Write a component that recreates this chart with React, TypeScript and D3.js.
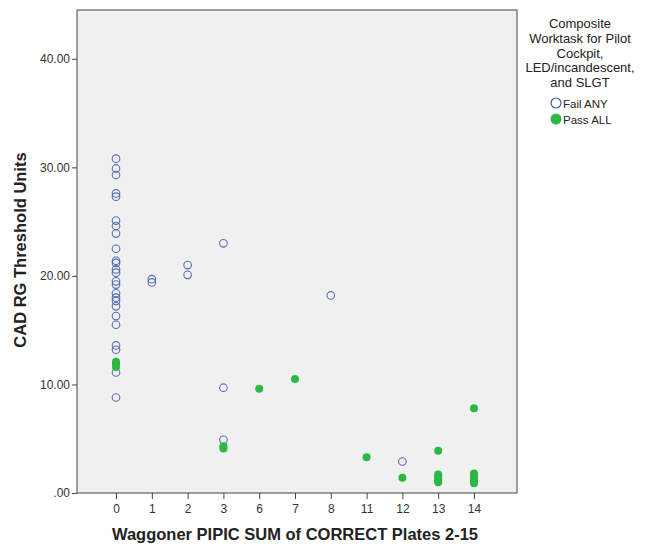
import React, { useEffect, useRef } from "react";
import * as d3 from "d3";

// x categories (PIPIC sum of correct plates) that appear in the data
const categories = ["0", "1", "2", "3", "6", "7", "8", "11", "12", "13", "14"];
const yTicks = [0, 10, 20, 30, 40];

// Fail ANY (open blue circles)
const failX = [
  "0", "0", "0", "0", "0", "0", "0", "0", "0", "0", "0", "0", "0", "0", "0", "0", "0", "0",
  "0", "0", "0", "0", "0", "0", "0", "1", "1", "2", "2", "3", "3", "3", "8", "12",
];
const failY = [
  30.8, 29.9, 29.3, 27.6, 27.3, 25.1, 24.6, 23.9, 22.5, 21.4, 21.2, 20.6, 20.3, 19.5, 19.2,
  18.4, 18.0, 17.7, 17.2, 16.3, 15.5, 13.6, 13.2, 11.1, 8.8, 19.7, 19.4, 21.0, 20.1, 23.0,
  9.7, 4.9, 18.2, 2.9,
];

// Pass ALL (filled green circles)
const passX = [
  "0", "0", "0", "3", "3", "6", "7", "11", "12", "13", "13", "13", "13", "13", "13",
  "14", "14", "14", "14", "14", "14", "14",
];
const passY = [
  12.1, 11.9, 11.6, 4.3, 4.1, 9.6, 10.5, 3.3, 1.4, 3.9, 1.7, 1.5, 1.3, 1.1, 1.0,
  7.8, 1.8, 1.6, 1.4, 1.2, 1.0, 0.9,
];

const legendTitle = ["Composite", "Worktask for Pilot", "Cockpit,", "LED/incandescent,", "and SLGT"];

const W = 646;
const H = 544;
const plot = { left: 77, top: 10, right: 517, bottom: 493 };
const FONT = "'Liberation Sans', Arial, sans-serif";
const BLUE = "#3e58ac";
const GREEN = "#2bb844";

const App = () => {
  const svgRef = useRef<SVGSVGElement>(null);

  useEffect(() => {
    const svg = d3.select(svgRef.current);
    svg.selectAll("*").remove();

    const x = d3.scalePoint().domain(categories).range([plot.left, plot.right - 4]).padding(1.09);
    const y = d3.scaleLinear().domain([0, 44.5]).range([plot.bottom, plot.top]);

    // plot background
    svg.append("rect")
      .attr("x", plot.left).attr("y", plot.top)
      .attr("width", plot.right - plot.left)
      .attr("height", plot.bottom - plot.top)
      .attr("fill", "#f0f0f0").attr("stroke", "#444").attr("stroke-width", 1);

    const yAxis = svg.append("g")
      .attr("transform", `translate(${plot.left},0)`)
      .call(d3.axisLeft(y).tickValues(yTicks).tickSize(5).tickPadding(2).tickFormat((d: any) => d === 0 ? ".00" : d3.format(".2f")(d)));
    yAxis.select(".domain").remove();

    const xAxis = svg.append("g")
      .attr("transform", `translate(0,${plot.bottom})`)
      .call(d3.axisBottom(x).tickSize(6).tickPadding(5));
    xAxis.select(".domain").remove();

    svg.selectAll(".tick line").attr("stroke", "#444");
    svg.selectAll(".tick text").attr("font-family", FONT).attr("font-size", 12).attr("fill", "#333");

    // points
    const fail = failX.map((c, i) => ({ c, v: failY[i] }));
    const pass = passX.map((c, i) => ({ c, v: passY[i] }));

    svg.append("g").selectAll("circle").data(fail).join("circle")
      .attr("cx", d => x(d.c)!).attr("cy", d => y(d.v))
      .attr("r", 3.8).attr("fill", "none").attr("stroke", BLUE).attr("stroke-width", 1.1).attr("stroke-opacity", 0.85);

    svg.append("g").selectAll("circle").data(pass).join("circle")
      .attr("cx", d => x(d.c)!).attr("cy", d => y(d.v))
      .attr("r", 4).attr("fill", GREEN);

    // axis titles
    svg.append("text")
      .attr("x", 295).attr("y", 540)
      .attr("text-anchor", "middle").attr("font-family", FONT).attr("font-weight", "bold")
      .attr("font-size", 16.5).attr("fill", "#222")
      .text("Waggoner PIPIC SUM of CORRECT Plates 2-15");

    svg.append("text")
      .attr("transform", `translate(26,250) rotate(-90)`)
      .attr("text-anchor", "middle").attr("font-family", FONT).attr("font-weight", "bold")
      .attr("font-size", 16.5).attr("fill", "#222")
      .text("CAD RG Threshold Units");

    // legend
    const lg = svg.append("g").attr("font-family", FONT).attr("font-size", 13).attr("fill", "#222");
    lg.selectAll("text.title").data(legendTitle).join("text")
      .attr("class", "title")
      .attr("x", 580).attr("y", (d, i) => 28 + i * 14.8)
      .attr("text-anchor", "middle").attr("fill", "#222")
      .text(d => d);

    lg.append("circle").attr("cx", 556).attr("cy", 103).attr("r", 5)
      .attr("fill", "none").attr("stroke", BLUE).attr("stroke-width", 1.2);
    lg.append("text").attr("x", 563).attr("y", 107.5).attr("font-size", 11.5).attr("fill", "#222").text("Fail ANY");
    lg.append("circle").attr("cx", 556).attr("cy", 119).attr("r", 5.5).attr("fill", GREEN);
    lg.append("text").attr("x", 563).attr("y", 123.5).attr("font-size", 11.5).attr("fill", "#222").text("Pass ALL");
  }, []);

  return (
    <svg ref={svgRef} width={W} height={H}
      style={{ position: "absolute", left: 0, top: 0, background: "#fff" }} />
  );
};

export default App;
